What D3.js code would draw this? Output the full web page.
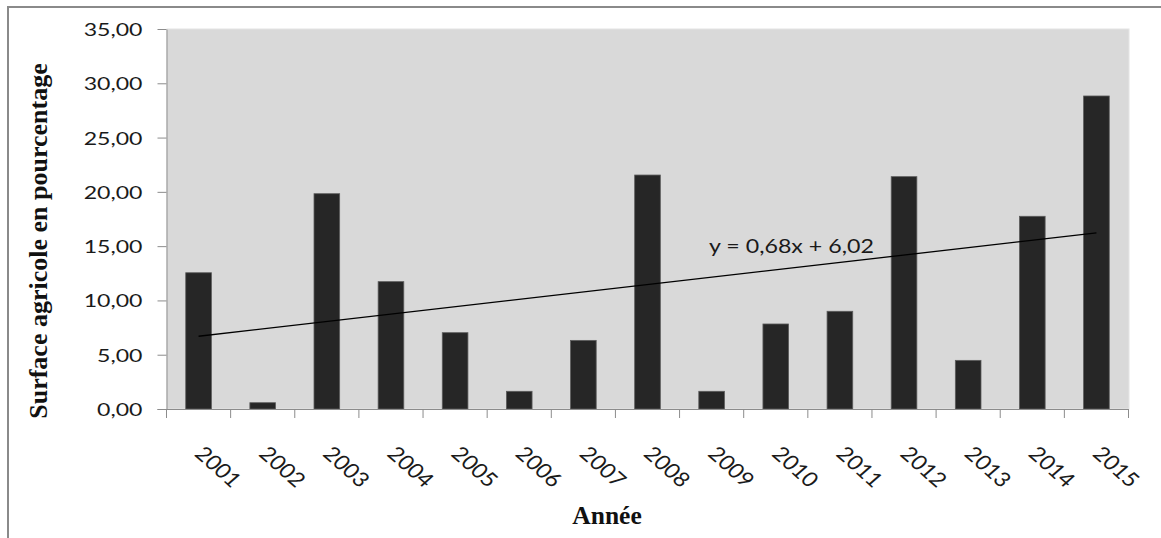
<!DOCTYPE html>
<html>
<head>
<meta charset="utf-8">
<script src="https://cdn.jsdelivr.net/npm/d3@7"></script>
<style>
  html, body { margin: 0; padding: 0; background: #ffffff; }
  svg { display: block; }
</style>
</head>
<body>
<svg id="chart" width="1161" height="538"></svg>
<script>
// ---- data ----
const years = ["2001","2002","2003","2004","2005","2006","2007","2008","2009","2010","2011","2012","2013","2014","2015"];
const values = [12.55, 0.58, 19.83, 11.73, 7.03, 1.63, 6.32, 21.55, 1.63, 7.83, 9.00, 21.40, 4.48, 17.75, 28.83];
const yTicks = [0, 5, 10, 15, 20, 25, 30, 35];
const trendSlope = 0.68;
const trendIntercept = 6.02;
const trendLabel = "y = 0,68x + 6,02";
const yTitle = "Surface agricole en pourcentage";
const xTitle = "Année";

// ---- layout ----
const W = 1161, H = 538;
const plot = { left: 166.5, right: 1128.5, top: 29, bottom: 409 };
const stretch = 1.27;
const sansFont = "Lato, 'Open Sans', sans-serif";
const serifFont = "'Liberation Serif', 'Times New Roman', serif";

const svg = d3.select("#chart");

// outer frame (only left/top visible in reference)
svg.append("rect")
  .attr("x", 8).attr("y", 7)
  .attr("width", W + 20).attr("height", H + 20)
  .attr("fill", "#ffffff")
  .attr("stroke", "#8a8a8a").attr("stroke-width", 2);

const xStep = d3.scaleBand().domain(years).range([plot.left, plot.right]).padding(0);
const y = d3.scaleLinear().domain([0, 35]).range([plot.bottom, plot.top]);

// plot background
svg.append("rect")
  .attr("x", plot.left + 0.5).attr("y", y(35))
  .attr("width", plot.right - plot.left).attr("height", y(0) - y(35))
  .attr("fill", "#d9d9d9")
  .attr("stroke", "#e4e4e4").attr("stroke-width", 1);

// bars
const bw = xStep.bandwidth() * 0.4;
svg.append("g").selectAll("rect")
  .data(years)
  .join("rect")
  .attr("x", (d) => xStep(d) + (xStep.bandwidth() - bw) / 2)
  .attr("y", (d, i) => y(values[i]))
  .attr("width", bw)
  .attr("height", (d, i) => y(0) - y(values[i]))
  .attr("fill", "#262626")
  .attr("stroke", "#5c5c5c").attr("stroke-width", 0.8);

// trend line
const xCenter = (d) => xStep(d) + xStep.bandwidth() / 2;
const trendPts = [years[0], years[years.length - 1]].map((d) => {
  const k = years.indexOf(d) + 1;
  return [xCenter(d), y(trendSlope * k + trendIntercept)];
});
svg.append("path")
  .attr("d", d3.line()(trendPts))
  .attr("fill", "none")
  .attr("stroke", "#000000")
  .attr("stroke-width", 1.3);

// trend label
svg.append("text")
  .attr("transform", `translate(709, 253) scale(1.19,1)`)
  .attr("font-family", sansFont)
  .attr("font-size", 19.5)
  .attr("fill", "#1a1a1a")
  .text(trendLabel);

// y axis
const fr = d3.formatLocale({ decimal: ",", thousands: " ", grouping: [3], currency: ["", "€"] });
const fmt = fr.format(".2f");
const yAxis = svg.append("g")
  .attr("transform", `translate(${plot.left},0)`)
  .call(d3.axisLeft(y).tickValues(yTicks).tickFormat(fmt).tickSize(9).tickSizeOuter(0));
yAxis.select(".domain").attr("stroke", "#8c8c8c");
yAxis.selectAll(".tick line").attr("stroke", "#8c8c8c");
yAxis.selectAll(".tick text")
  .attr("x", 0).attr("dy", "0.36em")
  .attr("transform", `translate(-24,0) scale(${stretch},1)`)
  .attr("font-family", sansFont)
  .attr("font-size", 18.2)
  .attr("fill", "#1a1a1a")
  .attr("text-anchor", "end");

// x axis
const xAxisG = svg.append("g").attr("transform", `translate(0,${plot.bottom})`);
xAxisG.append("line")
  .attr("x1", plot.left - 9).attr("x2", plot.right)
  .attr("y1", 0.5).attr("y2", 0.5)
  .attr("stroke", "#8c8c8c");
const boundaries = years.map((d) => xStep(d)).concat([xStep(years[years.length - 1]) + xStep.bandwidth()]);
xAxisG.selectAll("line.tk")
  .data(boundaries)
  .join("line")
  .attr("class", "tk")
  .attr("x1", (d) => d).attr("x2", (d) => d)
  .attr("y1", 0).attr("y2", 9)
  .attr("stroke", "#8c8c8c");
xAxisG.selectAll("text.yr")
  .data(years)
  .join("text")
  .attr("class", "yr")
  .attr("transform", (d) => `translate(${xCenter(d) - 5},${46}) scale(1.13,1) rotate(45)`)
  .attr("font-family", sansFont)
  .attr("font-size", 20.5)
  .attr("fill", "#1a1a1a")
  .attr("text-anchor", "start")
  .text((d) => d);

// axis titles
svg.append("text")
  .attr("x", 607).attr("y", 524)
  .attr("text-anchor", "middle")
  .attr("font-family", serifFont)
  .attr("font-weight", "bold")
  .attr("font-size", 25.5)
  .attr("fill", "#111111")
  .text(xTitle);

svg.append("text")
  .attr("transform", "translate(47,241) rotate(-90)")
  .attr("text-anchor", "middle")
  .attr("font-family", serifFont)
  .attr("font-weight", "bold")
  .attr("font-size", 26)
  .attr("fill", "#111111")
  .text(yTitle);
</script>
</body>
</html>
